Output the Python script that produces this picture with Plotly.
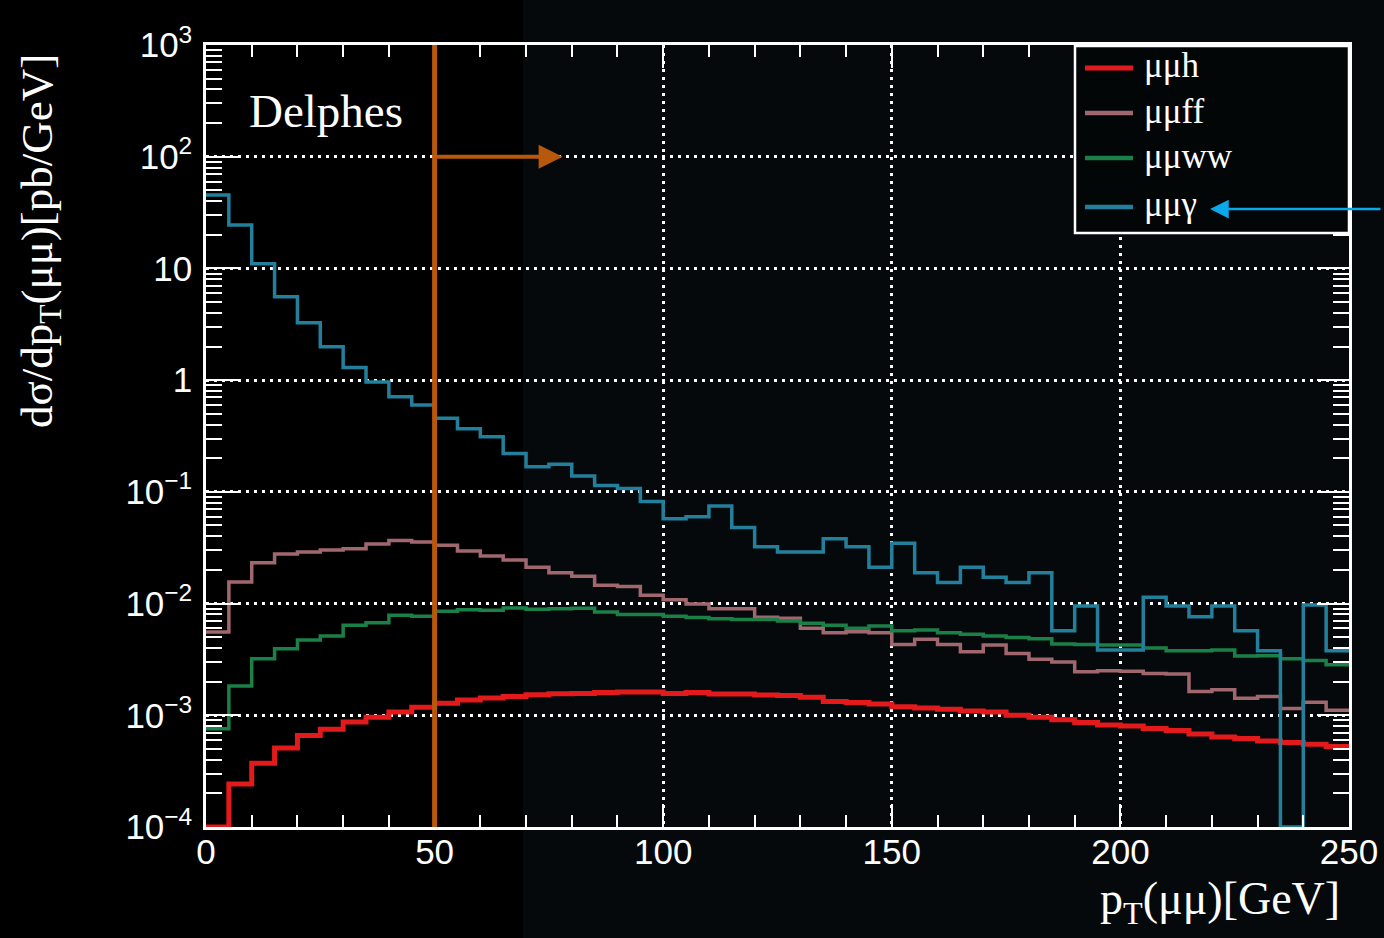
import plotly.graph_objects as go

# ---------------- data ----------------
bin_edges = [5 * i for i in range(51)]  # 0..250 GeV, 5 GeV bins

mumuh = [1.0e-4, 2.43e-4, 3.72e-4, 5.1e-4, 6.6e-4, 7.48e-4, 8.7e-4, 9.6e-4, 1.07e-3, 1.18e-3,
         1.28e-3, 1.37e-3, 1.43e-3, 1.47e-3, 1.53e-3, 1.56e-3, 1.57e-3, 1.60e-3, 1.62e-3, 1.62e-3,
         1.57e-3, 1.60e-3, 1.55e-3, 1.55e-3, 1.52e-3, 1.50e-3, 1.45e-3, 1.33e-3, 1.30e-3, 1.26e-3,
         1.19e-3, 1.16e-3, 1.13e-3, 1.09e-3, 1.07e-3, 1.00e-3, 9.6e-4, 9.1e-4, 8.6e-4, 8.2e-4,
         8.0e-4, 7.6e-4, 7.3e-4, 6.8e-4, 6.4e-4, 6.2e-4, 5.9e-4, 5.7e-4, 5.5e-4, 5.26e-4]

mumuff = [5.56e-3, 1.56e-2, 2.32e-2, 2.78e-2, 2.89e-2, 3.01e-2, 3.10e-2, 3.41e-2, 3.66e-2, 3.56e-2,
          3.32e-2, 2.96e-2, 2.67e-2, 2.46e-2, 2.11e-2, 1.89e-2, 1.76e-2, 1.46e-2, 1.42e-2, 1.19e-2,
          1.08e-2, 9.9e-3, 9.0e-3, 9.0e-3, 7.53e-3, 7.4e-3, 6.0e-3, 5.48e-3, 5.6e-3, 5.48e-3,
          4.31e-3, 4.79e-3, 4.31e-3, 3.71e-3, 4.25e-3, 3.58e-3, 3.17e-3, 3.00e-3, 2.45e-3, 2.50e-3,
          2.48e-3, 2.37e-3, 2.34e-3, 1.63e-3, 1.69e-3, 1.42e-3, 1.47e-3, 1.15e-3, 1.31e-3, 1.11e-3]

mumuww = [7.59e-4, 1.83e-3, 3.21e-3, 3.94e-3, 4.72e-3, 5.13e-3, 6.39e-3, 6.75e-3, 7.85e-3, 7.7e-3,
          8.53e-3, 8.8e-3, 8.7e-3, 9.12e-3, 8.9e-3, 9.0e-3, 9.1e-3, 8.4e-3, 8.0e-3, 8.0e-3,
          7.7e-3, 7.5e-3, 7.3e-3, 7.2e-3, 7.2e-3, 6.98e-3, 6.66e-3, 6.4e-3, 6.0e-3, 6.3e-3,
          5.72e-3, 5.8e-3, 5.48e-3, 5.3e-3, 5.13e-3, 4.96e-3, 4.85e-3, 4.34e-3, 4.3e-3, 4.25e-3,
          4.25e-3, 4.0e-3, 3.79e-3, 3.78e-3, 3.84e-3, 3.39e-3, 3.42e-3, 3.21e-3, 3.1e-3, 2.84e-3]

mumugamma = [45.4, 24.5, 11.0, 5.58, 3.27, 1.99, 1.30, 0.96, 0.71, 0.60,
             0.455, 0.367, 0.312, 0.221, 0.168, 0.177, 0.139, 0.114, 0.107, 0.082,
             0.0574, 0.0598, 0.0746, 0.048, 0.0322, 0.0289, 0.0289, 0.038, 0.0322, 0.0211,
             0.0346, 0.0189, 0.0154, 0.0211, 0.0172, 0.0154, 0.0189, 0.00572, 0.0095, 0.00384,
             0.00384, 0.0114, 0.0095, 0.00764, 0.0095, 0.00572, 0.00379, 1.0e-4, 0.0097, 0.00379]

series_names = ["μμh", "μμff", "μμww", "μμγ"]
series_colors = ["#e31a1c", "#a0676f", "#1b8048", "#23809c"]
series_widths = [5, 3.5, 3.5, 3.5]

y_major_vals = [1e-4, 1e-3, 1e-2, 1e-1, 1, 10, 1e2, 1e3]
y_major_text = ["10<sup>−4</sup>", "10<sup>−3</sup>", "10<sup>−2</sup>", "10<sup>−1</sup>",
                "1", "10", "10<sup>2</sup>", "10<sup>3</sup>"]
x_major_vals = [0, 50, 100, 150, 200, 250]
cut_value = 50

# ---------------- figure ----------------
W, H = 1384, 938
L, R, T, B = 206, 35, 45, 111
pw, ph = W - L - R, H - T - B


def px_x(p):
    return (p - L) / pw


def px_y(p):
    return 1 - (p - T) / ph


fig = go.Figure()

for name, vals, col, wid in zip(series_names, [mumuh, mumuff, mumuww, mumugamma],
                                series_colors, series_widths):
    fig.add_trace(go.Scatter(
        x=bin_edges, y=list(vals) + [vals[-1]],
        mode="lines", line=dict(shape="hv", color=col, width=wid),
        name=name, showlegend=False,
    ))

y_minor = [k * 10.0 ** e for e in range(-4, 3) for k in range(2, 10)]
x_minor = [v for v in range(10, 250, 10) if v % 50 != 0]

grid_kw = dict(showgrid=True, gridcolor="white", gridwidth=2.5, griddash="3px,5px")

fig.update_layout(
    width=W, height=H,
    margin=dict(l=L, r=R, t=T, b=B, autoexpand=False),
    paper_bgcolor="black",
    plot_bgcolor="rgba(0,0,0,0)",
    showlegend=False,
    xaxis=dict(
        range=[0, 250], tickmode="array", tickvals=x_major_vals,
        ticktext=[str(v) for v in x_major_vals],
        ticks="inside", ticklen=23, tickwidth=2, tickcolor="white",
        minor=dict(tickvals=x_minor, ticks="inside", ticklen=12, tickwidth=2,
                   tickcolor="white", showgrid=False),
        showline=True, linecolor="white", linewidth=2.5, mirror="ticks",
        zeroline=False, automargin=False, ticklabelstandoff=-8,
        tickfont=dict(family="Liberation Sans", size=35, color="white"),
        **grid_kw,
    ),
    yaxis=dict(
        type="log", range=[-4, 3], tickmode="array", tickvals=y_major_vals,
        ticktext=y_major_text,
        ticks="inside", ticklen=32, tickwidth=2, tickcolor="white",
        minor=dict(tickvals=y_minor, ticks="inside", ticklen=16, tickwidth=2,
                   tickcolor="white", showgrid=False),
        showline=True, linecolor="white", linewidth=2.5, mirror="ticks",
        zeroline=False, automargin=False, ticklabelstandoff=4,
        tickfont=dict(family="Liberation Sans", size=35, color="white"),
        **grid_kw,
    ),
)

# slightly lighter backdrop on the right part of the image
fig.add_shape(type="rect", xref="paper", yref="paper",
              x0=px_x(523), x1=px_x(W), y0=px_y(H), y1=px_y(0),
              fillcolor="#05090b", line=dict(width=0), layer="below")

# cut line
fig.add_shape(type="line", xref="x", yref="paper", x0=cut_value, x1=cut_value, y0=0, y1=1,
              line=dict(color="#b8580c", width=5))
fig.add_annotation(x=78, y=2, ax=cut_value, ay=2, xref="x", yref="y", axref="x", ayref="y",
                   text="", showarrow=True, arrowhead=2, arrowsize=1.2, arrowwidth=4,
                   arrowcolor="#b8580c")

# legend (drawn manually to match the ROOT box)
fig.add_shape(type="rect", xref="paper", yref="paper",
              x0=px_x(1075), x1=px_x(1349), y0=px_y(233), y1=px_y(46),
              fillcolor="#030607", line=dict(color="white", width=2.5))
legend_rows = [68, 113, 158, 207]
for name, col, row in zip(series_names, series_colors, legend_rows):
    fig.add_shape(type="line", xref="paper", yref="paper",
                  x0=px_x(1085), x1=px_x(1133), y0=px_y(row), y1=px_y(row),
                  line=dict(color=col, width=5 if col == "#e31a1c" else 4.5))
    fig.add_annotation(x=px_x(1142), y=px_y(row - 2), xref="paper", yref="paper",
                       text=name, showarrow=False, xanchor="left", yanchor="middle",
                       font=dict(family="Liberation Serif", size=35, color="white"))

# blue pointer arrow to legend entry
fig.add_annotation(x=px_x(1210), y=px_y(209), xref="paper", yref="paper",
                   ax=172, ay=0, text="", showarrow=True, arrowhead=2, arrowsize=1.5,
                   arrowwidth=2.5, arrowcolor="#0aa8e8")

# texts
fig.add_annotation(x=px_x(247), y=px_y(111), xref="paper", yref="paper",
                   text="Delphes", showarrow=False, xanchor="left", yanchor="middle",
                   font=dict(family="Liberation Serif", size=47, color="white"))
fig.add_annotation(x=px_x(40), y=px_y(52), xref="paper", yref="paper",
                   text="dσ/dp<sub>T</sub>(μμ)[pb/GeV]", showarrow=False, textangle=-90,
                   xanchor="center", yanchor="top",
                   font=dict(family="Liberation Serif", size=45, color="white"))
fig.add_annotation(x=px_x(1342), y=px_y(902), xref="paper", yref="paper",
                   text="p<sub>T</sub>(μμ)[GeV]", showarrow=False,
                   xanchor="right", yanchor="middle",
                   font=dict(family="Liberation Serif", size=46, color="white"))

fig.write_html("out.html")
